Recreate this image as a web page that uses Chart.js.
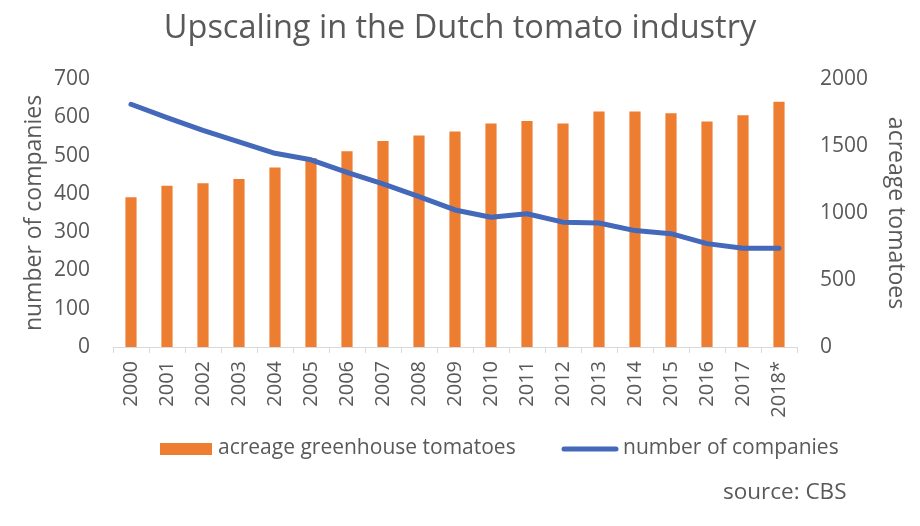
<!DOCTYPE html>
<html>
<head>
<meta charset="utf-8">
<title>Upscaling in the Dutch tomato industry</title>
<script src="https://cdn.jsdelivr.net/npm/chart.js@4.4.1/dist/chart.umd.min.js"></script>
<style>
  html, body { margin: 0; padding: 0; background: #fff; }
  canvas { display: block; }
</style>
</head>
<body>
<canvas id="tomato-chart" width="920" height="526"></canvas>
<script>
// data
const years = ['2000', '2001', '2002', '2003', '2004', '2005', '2006', '2007', '2008', '2009',
               '2010', '2011', '2012', '2013', '2014', '2015', '2016', '2017', '2018*'];
const acreage = [1117, 1204, 1222, 1254, 1340, 1410, 1460, 1537, 1579, 1608,
                 1668, 1686, 1668, 1757, 1757, 1745, 1683, 1730, 1831];
const companies = [634, 599, 566, 536, 506, 489, 456, 426, 393, 358,
                   339, 348, 326, 324, 304, 296, 270, 258, 258];
const companyTicks = [0, 100, 200, 300, 400, 500, 600, 700];
const acreageTicks = [0, 500, 1000, 1500, 2000];

const textGrey = '#595959';
const fontFamily = "'Open Sans', sans-serif";

// legend + source line under the axis
const legendAndSource = {
    id: 'legendAndSource',
    afterDraw(chart) {
        const c = chart.ctx;
        const bars = chart.data.datasets[0];
        const line = chart.data.datasets[1];
        c.save();
        c.font = '21px ' + fontFamily;
        c.textBaseline = 'middle';
        c.fillStyle = bars.backgroundColor;
        c.fillRect(160, 443, 52, 12);
        c.fillStyle = textGrey;
        c.fillText(bars.label, 218, 448);
        c.strokeStyle = line.borderColor;
        c.lineWidth = 5;
        c.lineCap = 'round';
        c.beginPath();
        c.moveTo(564, 449);
        c.lineTo(616, 449);
        c.stroke();
        c.fillText(line.label, 623, 448);
        c.font = '22.5px ' + fontFamily;
        c.fillText('source: CBS', 723, 493);
        c.restore();
    }
};

const ctx = document.getElementById('tomato-chart').getContext('2d');

new Chart(ctx, {
    type: 'bar',
    data: {
        labels: years,
        datasets: [{
            type: 'bar',
            label: 'acreage greenhouse tomatoes',
            data: acreage,
            yAxisID: 'y1',
            backgroundColor: '#ED7D31',
            barPercentage: 0.31,
            categoryPercentage: 1,
            order: 1
        }, {
            type: 'line',
            label: 'number of companies',
            data: companies,
            yAxisID: 'y',
            borderColor: '#4468BA',
            borderWidth: 5,
            pointRadius: 0,
            tension: 0,
            borderJoinStyle: 'round',
            borderCapStyle: 'round',
            order: 0
        }]
    },
    options: {
        responsive: false,
        animation: false,
        layout: { padding: 0 },
        scales: {
            x: {
                offset: true,
                grid: { display: true, drawOnChartArea: false, drawTicks: true, tickLength: 6, color: '#d9d9d9', offset: true },
                border: { display: true, color: '#d9d9d9' },
                ticks: {
                    color: textGrey,
                    font: { family: fontFamily, size: 20 },
                    minRotation: 90,
                    maxRotation: 90,
                    padding: 8,
                    autoSkip: false
                },
                afterFit: (scale) => { scale.height = 179; }
            },
            y: {
                position: 'left',
                min: 0,
                max: 700,
                grid: { display: false, drawTicks: false },
                border: { display: false },
                ticks: { color: textGrey, font: { family: fontFamily, size: 21 }, padding: 23 },
                afterBuildTicks: (scale) => { scale.ticks = companyTicks.map(v => ({ value: v })); },
                title: {
                    display: true,
                    text: 'number of companies',
                    color: textGrey,
                    font: { family: fontFamily, size: 23 },
                    padding: { top: 21, bottom: 0 }
                },
                afterFit: (scale) => { scale.width = 113; }
            },
            y1: {
                position: 'right',
                min: 0,
                max: 2000,
                grid: { display: false, drawTicks: false },
                border: { display: false },
                ticks: {
                    color: textGrey,
                    font: { family: fontFamily, size: 21 },
                    padding: 23,
                    callback: (value) => String(value)
                },
                afterBuildTicks: (scale) => { scale.ticks = acreageTicks.map(v => ({ value: v })); },
                title: {
                    display: true,
                    text: 'acreage tomatoes',
                    color: textGrey,
                    font: { family: fontFamily, size: 23 },
                    padding: { top: 11, bottom: 0 }
                },
                afterFit: (scale) => { scale.width = 123; }
            }
        },
        plugins: {
            legend: { display: false },
            tooltip: { enabled: false },
            title: {
                display: true,
                text: 'Upscaling in the Dutch tomato industry',
                color: textGrey,
                font: { family: fontFamily, size: 32.5, weight: 'normal' },
                padding: { top: 9, bottom: 31 }
            }
        }
    },
    plugins: [legendAndSource]
});
</script>
</body>
</html>
